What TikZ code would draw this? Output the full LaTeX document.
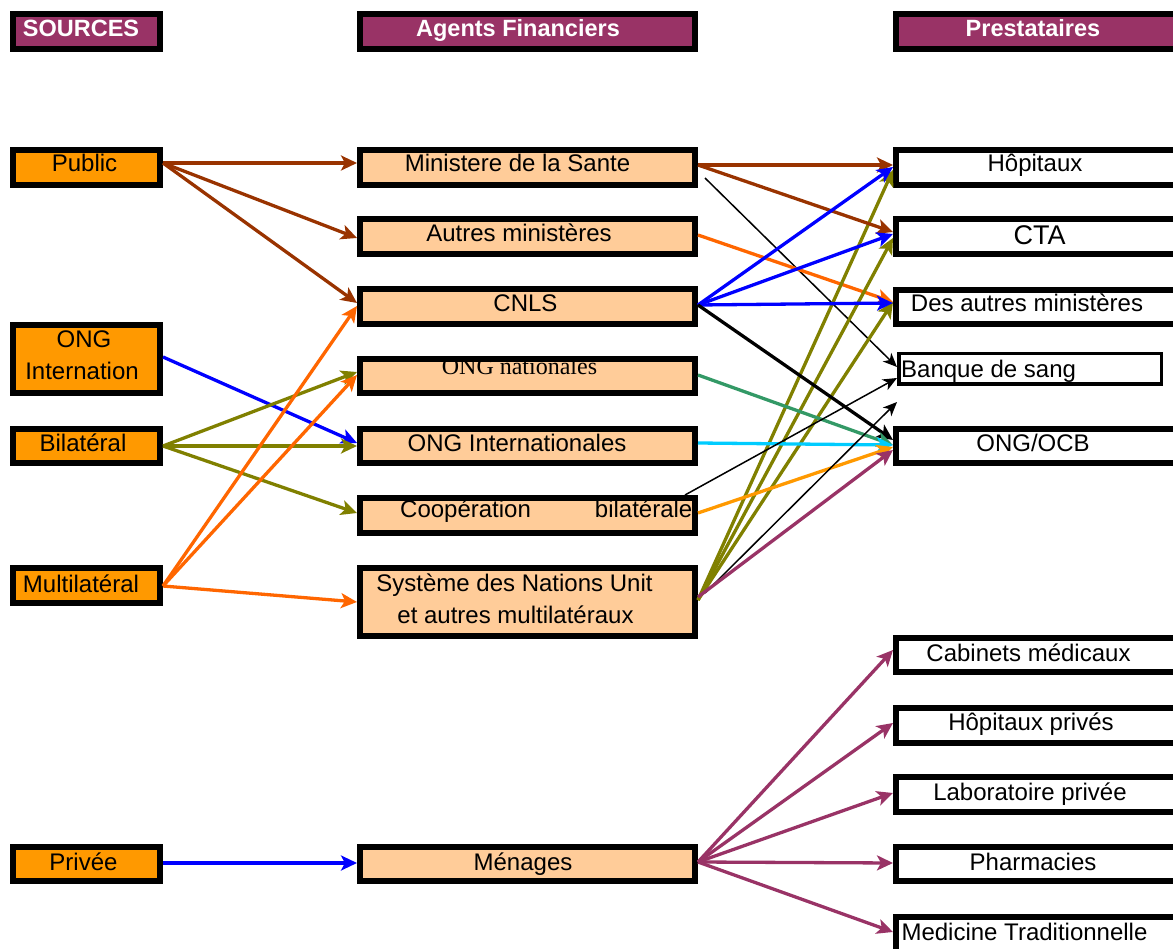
\documentclass[tikz,border=0pt]{standalone}
\usepackage{fontspec}
\setmainfont{Liberation Sans}
\newfontfamily\serifont{Liberation Serif}
\usetikzlibrary{arrows.meta}
\definecolor{cbrown}{HTML}{993300}
\definecolor{corange}{HTML}{FF6600}
\definecolor{cblue}{HTML}{0000FF}
\definecolor{colive}{HTML}{808000}
\definecolor{cgreen}{HTML}{339966}
\definecolor{ccyan}{HTML}{00CCFF}
\definecolor{cyellow}{HTML}{FF9900}
\definecolor{cplum}{HTML}{993366}
\definecolor{hdrfill}{HTML}{993366}
\definecolor{srcfill}{HTML}{FF9900}
\definecolor{agfill}{HTML}{FFCC99}
\newcommand\mkbox[6]{\node[box, fill=#6, minimum width={(#4-#2-6)*1pt}, minimum height={(#5-#3-6)*1pt}] (#1) at ({(#2+#4)/2},{(#3+#5)/2}) {};}
\begin{document}
\begin{tikzpicture}[x=1pt,y=-1pt,
  box/.style={draw=black, line width=6pt, inner sep=0pt},
  thinbox/.style={draw=black, line width=3.5pt, inner sep=0pt},
  t/.style={inner sep=0pt, anchor=base, font=\fontsize{24}{28}\selectfont},
  tw/.style={t, anchor=base west},
  hdr/.style={inner sep=0pt, anchor=base, text=white, font=\fontsize{23.5}{28}\selectfont\bfseries},
  arr/.style={line width=3.3pt, -{Stealth[length=16pt,width=15pt,inset=4pt]}},
  tarr/.style={line width=1.5pt, -{Stealth[length=14pt,width=12pt,inset=4pt]}},
]
\useasboundingbox (0,0) rectangle (1173,949);
% headers
\mkbox{hs}{10}{11}{163}{52}{hdrfill}
\mkbox{ha}{357}{11}{698}{52}{hdrfill}
\mkbox{hp}{893}{11}{1195}{52}{hdrfill}
% sources
\mkbox{pub}{10}{147}{163}{188}{srcfill}
\mkbox{ongi}{10}{322}{163}{396}{srcfill}
\mkbox{bil}{10}{426}{163}{466}{srcfill}
\mkbox{mul}{10}{565}{163}{606}{srcfill}
\mkbox{pri}{10}{844}{163}{884}{srcfill}
% agents
\mkbox{ms}{357}{147}{698}{188}{agfill}
\mkbox{am}{357}{216}{698}{257}{agfill}
\mkbox{cnls}{357}{286}{698}{327}{agfill}
\mkbox{ongn}{357}{356}{698}{396}{agfill}
\mkbox{ongin}{357}{426}{698}{466}{agfill}
\mkbox{coop}{357}{495}{698}{536}{agfill}
\mkbox{snu}{357}{565}{698}{639}{agfill}
\mkbox{men}{357}{844}{698}{884}{agfill}
% prestataires
\mkbox{hop}{893}{147}{1195}{188}{white}
\mkbox{cta}{893}{216}{1195}{257}{white}
\mkbox{dam}{893}{287}{1195}{327}{white}
\node[thinbox, fill=white, minimum width=262.5pt, minimum height=30.5pt] (bq) at (1030,369) {};
\mkbox{ocb}{893}{426}{1195}{466}{white}
\mkbox{cab}{893}{635}{1195}{675}{white}
\mkbox{hpr}{893}{705}{1195}{746}{white}
\mkbox{lab}{893}{774}{1195}{815}{white}
\mkbox{pha}{893}{844}{1195}{884}{white}
\mkbox{med}{893}{914}{1195}{960}{white}
% texts
\node[hdr] (ths) at (81,37) {SOURCES};
\node[hdr] (tha) at (518,37) {Agents Financiers};
\node[hdr] (thp) at (1033,37) {Prestataires};
\node[t] (tpub) at (84.5,172) {Public};
\node[t] (tongi1) at (84,348) {ONG};
\node[t] (tongi2) at (82,380) {Internation};
\node[t] (tbil) at (83,452) {Bilatéral};
\node[t] (tmul) at (81,592) {Multilatéral};
\node[t] (tpri) at (83.5,870) {Privée};
\node[t] (tms) at (517.5,172) {Ministere de la Sante};
\node[t] (tam) at (519,242) {Autres ministères};
\node[t] (tcnls) at (525.5,312) {CNLS};
\node[t, font=\fontsize{24}{28}\selectfont\serifont] (tongn) at (519.5,375) {ONG nationales};
\draw[line width=6pt] (357,359) -- (698,359);
\node[t] (tongin) at (517,452) {ONG Internationales};
\node[tw] (tcoop) at (400,517) {Coopération\hspace{64pt}bilatérale};
\node[t] (tsnu1) at (514.5,591) {Système des Nations Unit};
\node[t] (tsnu2) at (515.5,623) {et autres multilatéraux};
\node[t] (tmen) at (523,870) {Ménages};
\node[t] (thop) at (1035,172) {Hôpitaux};
\node[t, font=\fontsize{27}{30}\selectfont] (tcta) at (1039.5,245) {CTA};
\node[t] (tdam) at (1027,312) {Des autres ministères};
\node[tw] (tbq) at (901,378) {Banque de sang};
\node[t] (tocb) at (1033,452) {ONG/OCB};
\node[t] (tcab) at (1028.5,661) {Cabinets médicaux};
\node[t] (thpr) at (1031,730) {Hôpitaux privés};
\node[t] (tlab) at (1030,800) {Laboratoire privée};
\node[t] (tpha) at (1033,870) {Pharmacies};
\node[t] (tmed) at (1024.5,940) {Medicine Traditionnelle};
% free coordinates
\coordinate (c1) at (705,178);
\coordinate (c2) at (705,593);
\coordinate (c3) at (897,402);
% sources -> agents
\draw[arr,cbrown] (pub.east |- 0,163) -- (ms.west |- 0,163);
\draw[arr,cbrown] (pub.east |- 0,163) -- (am.west |- 0,238);
\draw[arr,cbrown] (pub.east |- 0,163) -- (cnls.west |- 0,303);
\draw[arr,cblue] (ongi.east |- 0,357) -- (ongin.west |- 0,443);
\draw[arr,colive] (bil.east |- 0,446) -- (ongn.west |- 0,372);
\draw[arr,colive] (bil.east |- 0,446) -- (ongin.west |- 0,446);
\draw[arr,colive] (bil.east |- 0,446) -- (coop.west |- 0,513);
\draw[arr,corange] (mul.east |- 0,586) -- (cnls.west |- 0,306);
\draw[arr,corange] (mul.east |- 0,586) -- (ongn.west |- 0,375);
\draw[arr,corange] (mul.east |- 0,586) -- (snu.west |- 0,602);
\draw[arr,cblue] (pri.east |- 0,863) -- (men.west |- 0,863);
% agents -> prestataires
\draw[tarr,black] (c1) -- (bq.west |- 0,367);
\draw[arr,corange] (am.east |- 0,235) -- (dam.west |- 0,302);
\draw[arr,colive] (snu.east |- 0,600) -- (hop.west |- 0,170);
\draw[arr,colive] (snu.east |- 0,600) -- (cta.west |- 0,238);
\draw[arr,colive] (snu.east |- 0,600) -- (dam.west |- 0,302);
\draw[arr,cbrown] (ms.east |- 0,165) -- (hop.west |- 0,165);
\draw[arr,cbrown] (ms.east |- 0,165) -- (cta.west |- 0,232);
\draw[arr,cblue] (cnls.east |- 0,305) -- (hop.west |- 0,167);
\draw[arr,cblue] (cnls.east |- 0,305) -- (cta.west |- 0,234);
\draw[arr,cblue] (cnls.east |- 0,305) -- (dam.west |- 0,303);
\draw[arr,black] (cnls.east |- 0,305) -- (ocb.west |- 0,440);
\draw[arr,cgreen] (ongn.east |- 0,375) -- (ocb.west |- 0,445);
\draw[arr,ccyan] (ongin.east |- 0,443) -- (ocb.west |- 0,445);
\draw[arr,cyellow] (coop.east |- 0,513) -- (ocb.west |- 0,447);
\draw[tarr,black] (685,0 |- coop.north) -- (bq.west |- 0,378);
\draw[tarr,black] (c2) -- (c3);
\draw[arr,cplum] (snu.east |- 0,597) -- (ocb.west |- 0,450);
\draw[arr,cplum] (men.east |- 0,862) -- (cab.west |- 0,650);
\draw[arr,cplum] (men.east |- 0,862) -- (hpr.west |- 0,723);
\draw[arr,cplum] (men.east |- 0,862) -- (lab.west |- 0,793);
\draw[arr,cplum] (men.east |- 0,862) -- (pha.west |- 0,863);
\draw[arr,cplum] (men.east |- 0,862) -- (med.west |- 0,932);
\end{tikzpicture}
\end{document}
